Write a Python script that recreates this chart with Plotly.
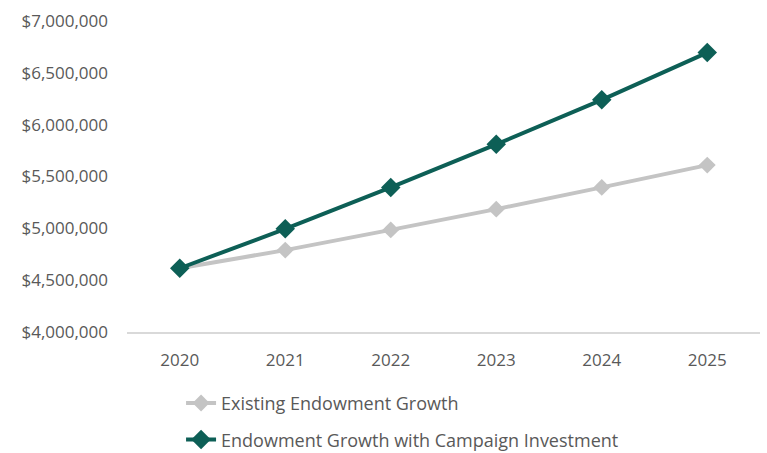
import plotly.graph_objects as go

years = ["2020", "2021", "2022", "2023", "2024", "2025"]
existing = [4615000, 4790000, 4985000, 5185000, 5395000, 5610000]
campaign = [4615000, 4995000, 5395000, 5810000, 6240000, 6695000]
y_ticks = [4000000, 4500000, 5000000, 5500000, 6000000, 6500000, 7000000]
y_labels = ["$4,000,000", "$4,500,000", "$5,000,000", "$5,500,000", "$6,000,000", "$6,500,000", "$7,000,000"]

GREEN = "#0D5F56"
GRAY = "#C4C4C4"
TEXT = "#595959"

fig = go.Figure()
fig.add_trace(go.Scatter(x=years, y=existing, name="Existing Endowment Growth",
                         mode="lines+markers", legendgroup="a",
                         line=dict(color=GRAY, width=4),
                         marker=dict(symbol="diamond", size=13, color=GRAY)))
fig.add_trace(go.Scatter(x=years, y=campaign, name="Endowment Growth with Campaign Investment",
                         mode="lines+markers", legendgroup="b",
                         line=dict(color=GREEN, width=4),
                         marker=dict(symbol="diamond", size=15, color=GREEN)))

fig.update_layout(
    width=767, height=453,
    margin=dict(l=127, r=7, t=21, b=121, autoexpand=False),
    paper_bgcolor="white", plot_bgcolor="white",
    font=dict(family="Open Sans", size=17, color=TEXT),
    showlegend=True,
    legend=dict(orientation="v", x=0.0854, xanchor="left", y=-0.17, yanchor="top",
                font=dict(size=18, color=TEXT), tracegroupgap=10,
                bgcolor="rgba(0,0,0,0)"),
    xaxis=dict(type="category", range=[-0.5, 5.5], showgrid=False,
               showline=True, linecolor="#D9D9D9", linewidth=2,
               ticks="", tickfont=dict(size=17, color=TEXT), ticklabelstandoff=12),
    yaxis=dict(range=[4000000, 7000000], tickvals=y_ticks, ticktext=y_labels,
               showgrid=False, zeroline=False, showline=False,
               tickfont=dict(size=17, color=TEXT), ticklabelstandoff=18),
)

fig.write_html("out.html")
